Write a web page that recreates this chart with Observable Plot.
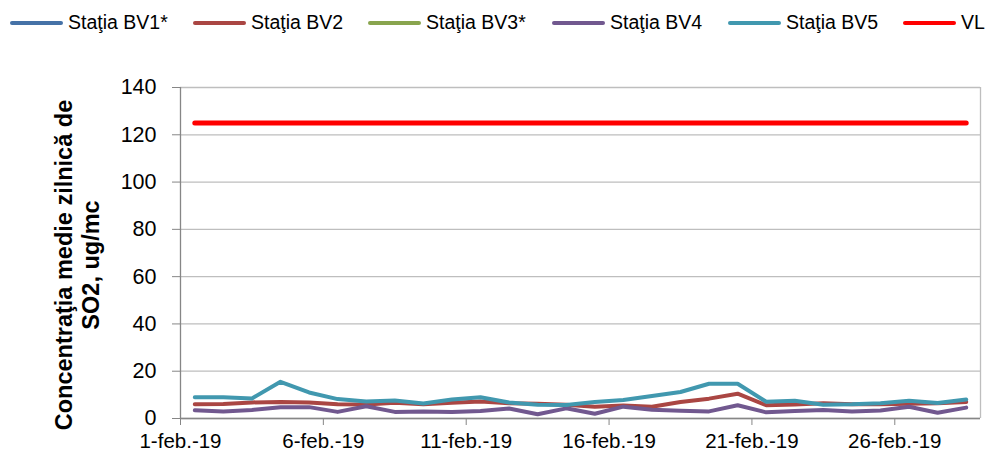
<!DOCTYPE html>
<html>
<head>
<meta charset="utf-8">
<script src="https://cdn.jsdelivr.net/npm/d3@7"></script>
<script src="https://cdn.jsdelivr.net/npm/@observablehq/plot@0.6"></script>
<style>
  html, body { margin: 0; padding: 0; background: #fff; }
  body { width: 987px; height: 453px; overflow: hidden; font-family: "Liberation Sans", Arial, sans-serif; }
  #legend { position: relative; height: 40px; }
  .item { position: absolute; top: 11px; display: flex; align-items: center; font-size: 19.5px; color: #000; }
  .sw { width: 53px; height: 4px; border-radius: 2px; margin-right: 5px; }
</style>
</head>
<body>
<div id="legend"></div>
<div id="chart"></div>
<script>
const days = [1,2,3,4,5,6,7,8,9,10,11,12,13,14,15,16,17,18,19,20,21,22,23,24,25,26,27,28];
const seriesNames = ["Staţia BV1*", "Staţia BV2", "Staţia BV3*", "Staţia BV4", "Staţia BV5", "VL"];
const seriesColors = ["#4572A7", "#AA4643", "#89A54E", "#71588F", "#4198AF", "#FF0000"];
const bv1 = [];
const bv2 = [6, 6.1, 6.8, 7, 6.8, 6, 5.9, 6.7, 6, 6.7, 7.2, 6.5, 6.2, 5.8, 5, 5.5, 5, 7, 8.4, 10.5, 5.6, 5.9, 6.5, 6, 6, 6.2, 6.5, 7];
const bv3 = [];
const bv4 = [3.5, 3, 3.6, 4.8, 4.8, 2.8, 5.2, 2.8, 3, 2.8, 3.2, 4.2, 1.8, 4.3, 2, 5, 3.7, 3.3, 3, 5.6, 2.6, 3.2, 3.6, 3, 3.4, 5, 2.4, 4.6];
const bv5 = [9, 9, 8.5, 15.5, 11, 8.2, 7.2, 7.6, 6.3, 8, 9, 6.8, 5.8, 5.7, 7, 7.8, 9.5, 11.2, 14.7, 14.7, 7.1, 7.5, 5.8, 6, 6.5, 7.5, 6.6, 8];
const vl = [125,125,125,125,125,125,125,125,125,125,125,125,125,125,125,125,125,125,125,125,125,125,125,125,125,125,125,125];
const yTicks = [0, 20, 40, 60, 80, 100, 120, 140];
const xTickDays = [1, 6, 11, 16, 21, 26];
const xTickLabels = ["1-feb.-19", "6-feb.-19", "11-feb.-19", "16-feb.-19", "21-feb.-19", "26-feb.-19"];
const yLabel = "Concentraţia medie zilnică de\nSO2, ug/mc";

const seriesValues = [bv1, bv2, bv3, bv4, bv5, vl];
const rows = [];
seriesValues.forEach((vals, si) => {
  vals.forEach((v, i) => rows.push({series: seriesNames[si], date: new Date(Date.UTC(2019, 1, days[i], 12)), value: v}));
});
const tickDates = xTickDays.map(d => new Date(Date.UTC(2019, 1, d)));
const fmt = new Map(tickDates.map((d, i) => [+d, xTickLabels[i]]));

// legend
const legend = document.getElementById("legend");
const lefts = [10, 193, 368, 552, 728, 903];
seriesNames.forEach((n, i) => {
  const it = document.createElement("div");
  it.className = "item";
  it.style.left = lefts[i] + "px";
  it.innerHTML = `<span class="sw" style="background:${seriesColors[i]}"></span><span>${n}</span>`;
  legend.appendChild(it);
});

const lineSeries = seriesNames.filter(n => n !== "VL");
const chart = Plot.plot({
  width: 987,
  height: 413,
  marginTop: 47,
  marginBottom: 35,
  marginLeft: 180,
  marginRight: 7,
  style: {fontFamily: "Liberation Sans, Arial, sans-serif", fontSize: "21px", color: "#000", background: "#fff"},
  x: {type: "utc", domain: [new Date(Date.UTC(2019, 1, 1)), new Date(Date.UTC(2019, 2, 1))], label: null},
  y: {domain: [0, 140], label: null},
  color: {domain: seriesNames, range: seriesColors},
  marks: [
    Plot.gridY(yTicks, {stroke: "#BEBEBE", strokeOpacity: 1, strokeWidth: 1.3}),
    Plot.ruleX([new Date(Date.UTC(2019, 2, 1))], {stroke: "#BEBEBE", strokeWidth: 1.3}),
    Plot.axisY(yTicks, {stroke: "#868686", fontSize: 21.5, tickSize: 8, tickPadding: 16, fill: "#000"}),
    Plot.axisX(tickDates, {stroke: "#868686", fontSize: 20.5, tickSize: 7, tickPadding: 8, tickFormat: d => fmt.get(+d), fill: "#000"}),
    Plot.ruleY([0], {stroke: "#868686", strokeWidth: 1.3}),
    Plot.ruleX([new Date(Date.UTC(2019, 1, 1))], {stroke: "#868686", strokeWidth: 1.3}),
    ...lineSeries.map(s => Plot.line(rows.filter(r => r.series === s), {x: "date", y: "value", stroke: "series", strokeWidth: 4, strokeLinejoin: "round"})),
    Plot.line(rows.filter(r => r.series === "VL"), {x: "date", y: "value", stroke: "series", strokeWidth: 5, strokeLinecap: "round"}),
    Plot.text([yLabel], {frameAnchor: "left", dx: -104, dy: 12, rotate: -90, fontSize: 23.5, fontWeight: "bold", lineHeight: 1.15, fill: "#000", textAnchor: "middle"})
  ]
});
document.getElementById("chart").appendChild(chart);
</script>
</body>
</html>
